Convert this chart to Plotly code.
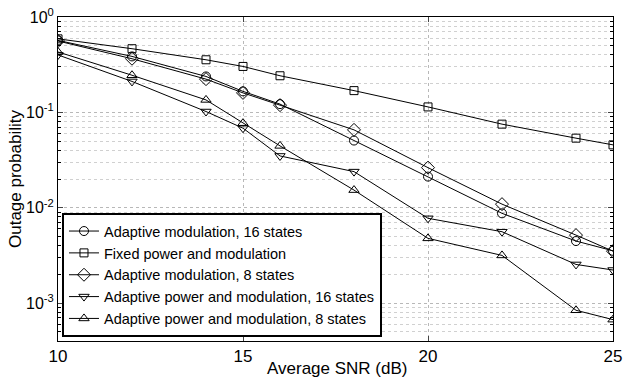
import plotly.graph_objects as go

snr = [10, 12, 14, 15, 16, 18, 20, 22, 24, 25]

am16 = [0.568, 0.386, 0.238, 0.166, 0.122, 0.0506, 0.0212, 0.00873, 0.00447, 0.00353]
fixed = [0.59, 0.465, 0.356, 0.303, 0.242, 0.169, 0.114, 0.0752, 0.0536, 0.0456]
am8 = [0.56, 0.365, 0.223, 0.160, 0.119, 0.0655, 0.0263, 0.0109, 0.00516, 0.0035]
apm16 = [0.40, 0.211, 0.102, 0.0682, 0.0349, 0.0239, 0.00774, 0.0056, 0.00254, 0.00222]
apm8 = [0.43, 0.245, 0.135, 0.077, 0.0445, 0.0153, 0.00477, 0.00316, 0.00084, 0.00067]

names = [
    "Adaptive modulation, 16 states",
    "Fixed power and modulation",
    "Adaptive modulation, 8 states",
    "Adaptive power and modulation, 16 states",
    "Adaptive power and modulation, 8 states",
]
series = [am16, fixed, am8, apm16, apm8]
symbols = ["circle-open", "square-open", "diamond-open", "triangle-down-open", "triangle-up-open"]
sizes = [9, 8, 10, 9, 9]

x_ticks = [10, 15, 20, 25]
y_tickvals = [1e-3, 1e-2, 1e-1, 1]
y_ticktext = ["10<sup>-3</sup>", "10<sup>-2</sup>", "10<sup>-1</sup>", "10<sup>0</sup>"]
x_title = "Average SNR (dB)"
y_title = "Outage probability"

FONT = "Liberation Sans, Arial, Helvetica, sans-serif"

fig = go.Figure()
for name, vals, sym, sz in zip(names, series, symbols, sizes):
    fig.add_trace(go.Scatter(
        x=snr, y=vals, name=name, mode="lines+markers",
        line=dict(color="black", width=1),
        marker=dict(symbol=sym, size=sz, color="black", line=dict(color="black", width=1)),
    ))

minor_y = [m * 10 ** e for e in range(-4, 0) for m in range(2, 10)]

fig.update_layout(
    width=625, height=381,
    margin=dict(l=58, r=12, t=17, b=40),
    paper_bgcolor="white", plot_bgcolor="white",
    font=dict(family=FONT, size=14.5, color="black"),
    showlegend=True,
    legend=dict(
        x=0.0072, y=0.012, xanchor="left", yanchor="bottom",
        bordercolor="black", borderwidth=2, bgcolor="white",
        font=dict(size=14.5, family=FONT), tracegroupgap=0,
        itemwidth=30,
    ),
    xaxis=dict(
        range=[10, 25], tickvals=x_ticks, ticks="inside", ticklen=5,
        showline=True, linecolor="black", linewidth=1, mirror="ticks",
        showgrid=True, gridcolor="#b8b8b8", griddash="dot", gridwidth=1,
        zeroline=False, tickfont=dict(size=17), ticklabelstandoff=0,
        automargin=False,
    ),
    yaxis=dict(
        type="log", range=[-3.398, 0],
        tickvals=y_tickvals, ticktext=y_ticktext,
        ticks="inside", ticklen=5,
        showline=True, linecolor="black", linewidth=1, mirror="ticks",
        showgrid=True, gridcolor="#b8b8b8", griddash="dot", gridwidth=1,
        zeroline=False, tickfont=dict(size=16), automargin=False,
        minor=dict(tickvals=minor_y, ticks="inside", ticklen=3, tickcolor="black",
                   showgrid=True, gridcolor="#d0d0d0", griddash="dot", gridwidth=1),
    ),
    annotations=[
        dict(text=x_title, xref="paper", yref="paper", x=0.502, y=-0.0864,
             xanchor="center", yanchor="middle", showarrow=False,
             font=dict(size=17, family=FONT)),
        dict(text=y_title, xref="paper", yref="paper", x=-0.0775, y=0.5,
             xanchor="center", yanchor="middle", showarrow=False, textangle=-90,
             font=dict(size=17, family=FONT)),
    ],
)

fig.write_html("out.html")
